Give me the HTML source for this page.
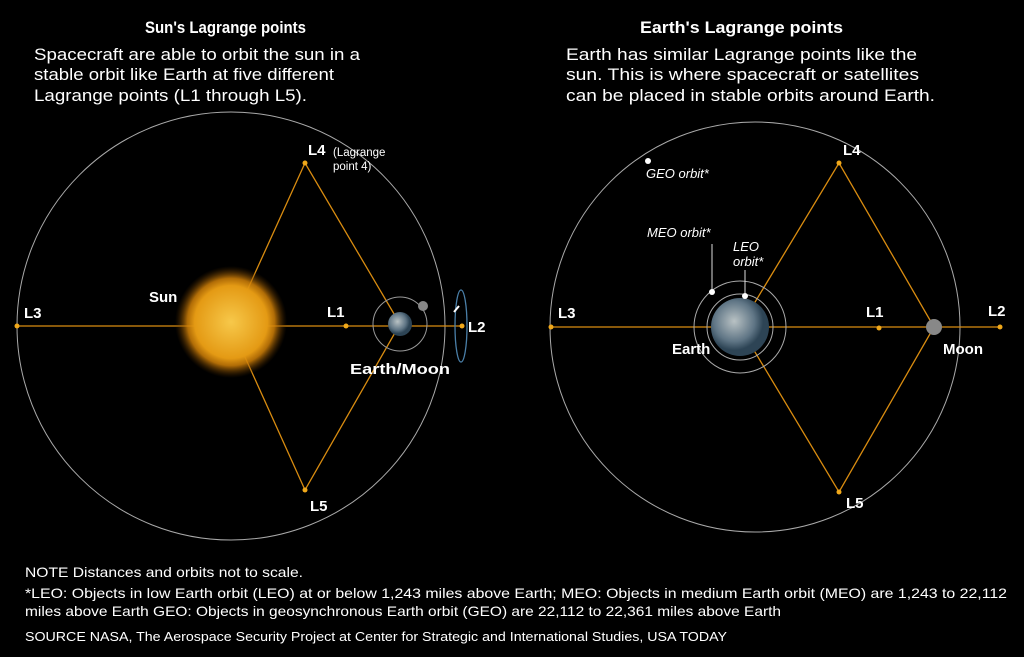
<!DOCTYPE html>
<html><head><meta charset="utf-8"><style>
body{margin:0;background:#000;width:1024px;height:657px;overflow:hidden;font-family:"Liberation Sans",sans-serif;color:#fff}
svg{position:absolute;left:0;top:0}
</style></head><body>
<svg width="1024" height="657" viewBox="0 0 1024 657" font-family="Liberation Sans, sans-serif" fill="#fff">
<defs>
<radialGradient id="sun"><stop offset="0" stop-color="#f7c84a"/><stop offset="0.65" stop-color="#e49a14"/><stop offset="0.78" stop-color="#d08008" stop-opacity="0.85"/><stop offset="1" stop-color="#5a3000" stop-opacity="0"/></radialGradient>
<radialGradient id="earth" cx="0.4" cy="0.4"><stop offset="0" stop-color="#b9c2c4"/><stop offset="0.7" stop-color="#5f7585"/><stop offset="1" stop-color="#2d4455"/></radialGradient>
</defs>
<text x="145" y="33" font-size="17" font-weight="bold" textLength="161" lengthAdjust="spacingAndGlyphs">Sun's Lagrange points</text>
<text font-size="17"><tspan x="34" y="60" textLength="326" lengthAdjust="spacingAndGlyphs">Spacecraft are able to orbit the sun in a</tspan><tspan x="34" y="80" textLength="300" lengthAdjust="spacingAndGlyphs">stable orbit like Earth at five different</tspan><tspan x="34" y="101" textLength="273" lengthAdjust="spacingAndGlyphs">Lagrange points (L1 through L5).</tspan></text>
<text x="640" y="33" font-size="17" font-weight="bold" textLength="203" lengthAdjust="spacingAndGlyphs">Earth's Lagrange points</text>
<text font-size="17"><tspan x="566" y="60" textLength="351" lengthAdjust="spacingAndGlyphs">Earth has similar Lagrange points like the</tspan><tspan x="566" y="80" textLength="353" lengthAdjust="spacingAndGlyphs">sun. This is where spacecraft or satellites</tspan><tspan x="566" y="101" textLength="369" lengthAdjust="spacingAndGlyphs">can be placed in stable orbits around Earth.</tspan></text>

<!-- left -->
<circle cx="231" cy="326" r="214" fill="none" stroke="#aaa" stroke-width="1"/>
<g stroke="#d98c10" stroke-width="1.3" fill="none">
<line x1="17" y1="326" x2="462" y2="326"/>
<polyline points="231,326 305,163 400,324 305,490 231,326"/>
</g>
<circle cx="231" cy="322" r="56" fill="url(#sun)"/>
<circle cx="400" cy="324" r="27" fill="none" stroke="#999"/>
<circle cx="400" cy="324" r="12" fill="url(#earth)"/>
<circle cx="423" cy="306" r="5" fill="#888"/>
<ellipse cx="461" cy="326" rx="6" ry="36" fill="none" stroke="#4a7fa8" stroke-width="1.3"/>
<line x1="454" y1="312" x2="459" y2="306" stroke="#fff" stroke-width="2"/>
<g fill="#f0a81a"><circle cx="17" cy="326" r="2.5"/><circle cx="305" cy="163" r="2.5"/><circle cx="305" cy="490" r="2.5"/><circle cx="346" cy="326" r="2.5"/><circle cx="462" cy="326" r="2.5"/></g>
<g font-weight="bold" font-size="15">
<text x="24" y="318">L3</text><text x="308" y="155">L4</text><text x="310" y="511">L5</text><text x="327" y="317">L1</text><text x="468" y="332">L2</text>
<text x="149" y="302">Sun</text><text x="350" y="374" textLength="100" lengthAdjust="spacingAndGlyphs">Earth/Moon</text></g>
<text font-size="11.5"><tspan x="333" y="156">(Lagrange</tspan><tspan x="333" y="170">point 4)</tspan></text>

<!-- right -->
<circle cx="755" cy="327" r="205" fill="none" stroke="#aaa"/>
<g stroke="#d98c10" stroke-width="1.3" fill="none">
<line x1="551" y1="327" x2="1000" y2="327"/>
<polyline points="740,327 839,163 934,327 839,492 740,327"/>
</g>
<circle cx="740" cy="327" r="46" fill="none" stroke="#aaa"/>
<circle cx="740" cy="327" r="33" fill="none" stroke="#aaa"/>
<circle cx="740" cy="327" r="29" fill="url(#earth)"/>
<circle cx="934" cy="327" r="8" fill="#888"/>
<line x1="712" y1="292" x2="712" y2="244" stroke="#ddd"/><circle cx="712" cy="292" r="3" fill="#fff"/>
<line x1="745" y1="296" x2="745" y2="270" stroke="#ddd"/><circle cx="745" cy="296" r="3" fill="#fff"/>
<circle cx="648" cy="161" r="3" fill="#fff"/>
<g fill="#f0a81a"><circle cx="551" cy="327" r="2.5"/><circle cx="839" cy="163" r="2.5"/><circle cx="839" cy="492" r="2.5"/><circle cx="879" cy="328" r="2.5"/><circle cx="1000" cy="327" r="2.5"/></g>
<g font-weight="bold" font-size="15">
<text x="558" y="318">L3</text><text x="843" y="155">L4</text><text x="846" y="508">L5</text><text x="866" y="317">L1</text><text x="988" y="316">L2</text>
<text x="672" y="354">Earth</text><text x="943" y="354">Moon</text></g>
<g font-style="italic" font-size="13">
<text x="646" y="178">GEO orbit*</text><text x="647" y="237">MEO orbit*</text>
<text x="733" y="251">LEO</text><text x="733" y="266">orbit*</text></g>

<g font-size="14">
<text x="25" y="577" textLength="278" lengthAdjust="spacingAndGlyphs">NOTE Distances and orbits not to scale.</text>
<text x="25" y="598" textLength="982" lengthAdjust="spacingAndGlyphs">*LEO: Objects in low Earth orbit (LEO) at or below 1,243 miles above Earth; MEO: Objects in medium Earth orbit (MEO) are 1,243 to 22,112</text>
<text x="25" y="616" textLength="756" lengthAdjust="spacingAndGlyphs">miles above Earth GEO: Objects in geosynchronous Earth orbit (GEO) are 22,112 to  22,361 miles above Earth</text>
<text x="25" y="641" font-size="13" textLength="702" lengthAdjust="spacingAndGlyphs">SOURCE NASA, The Aerospace Security Project at Center for Strategic and International Studies, USA TODAY</text>
</g>
</svg>
</body></html>
